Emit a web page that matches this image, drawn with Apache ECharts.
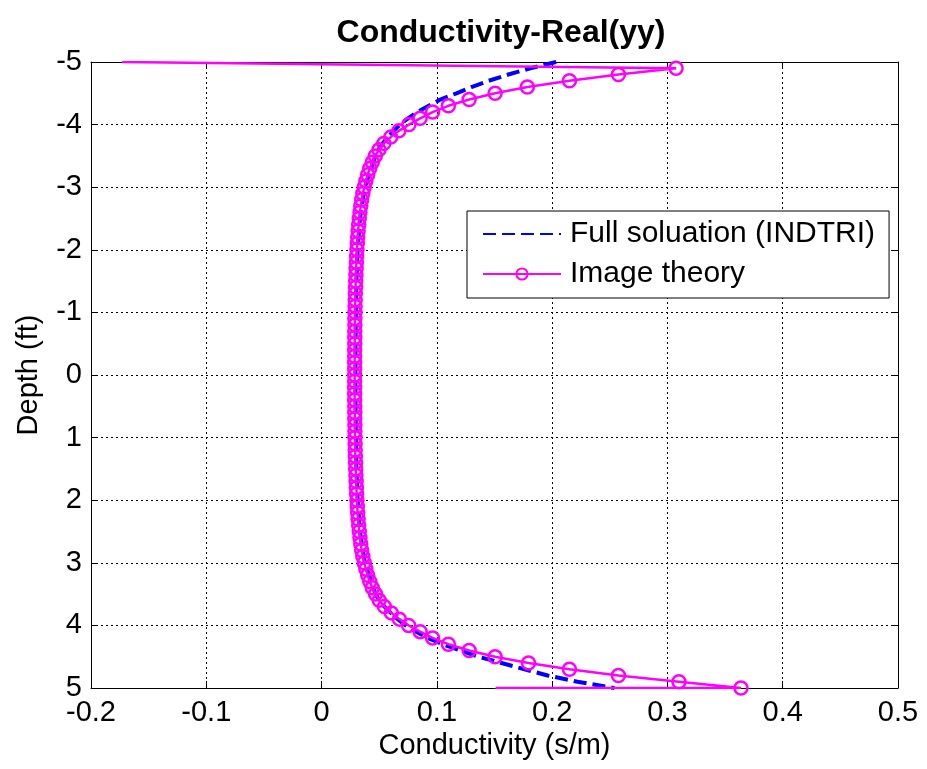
<!DOCTYPE html>
<html>
<head>
<meta charset="utf-8">
<script src="https://cdn.jsdelivr.net/npm/echarts@6/dist/echarts.min.js"></script>
<style>
html,body{margin:0;padding:0;background:#fff;}
#chart{width:927px;height:769px;}
</style>
</head>
<body>
<div id="chart"></div>
<script>
// ---- data ----
const seriesNames = ['Full soluation (INDTRI)', 'Image theory'];
const xTicks = [-0.2, -0.1, 0, 0.1, 0.2, 0.3, 0.4, 0.5];
const yTicks = [-5, -4, -3, -2, -1, 0, 1, 2, 3, 4, 5];

// Full solution (INDTRI): depth (ft) and conductivity (s/m)
const fullDepth = [-5.0,-4.9,-4.8,-4.7,-4.6,-4.5,-4.4,-4.3,-4.2,-4.1,-4.0,-3.9,-3.8,-3.7,-3.6,-3.5,
  -3.0,-2.5,-2.0,-1.5,-1.0,-0.5,0.0,0.5,1.0,1.5,2.0,2.5,3.0,
  3.5,3.6,3.7,3.8,3.9,4.0,4.1,4.2,4.3,4.4,4.5,4.6,4.7,4.8,4.9,5.0];
const fullCond = [0.2035,0.1810,0.1620,0.1450,0.1300,0.1170,0.1030,0.0930,0.0830,0.0750,0.0680,0.0625,0.0575,0.0530,0.0495,0.0466,
  0.0375,0.0333,0.0313,0.0302,0.0297,0.0295,0.0294,0.0295,0.0297,0.0302,0.0313,0.0333,0.0375,
  0.0468,0.0500,0.0545,0.0600,0.0660,0.0730,0.0820,0.0920,0.1050,0.1200,0.1360,0.1560,0.1760,0.1960,0.2220,0.2540];

// Image theory: marked points
const imageDepth = [-4.9,-4.8,-4.7,-4.6,-4.5,-4.4,-4.3,-4.2,-4.1,-4.0,
  -3.9,-3.8,-3.7,-3.6,-3.5,-3.4,-3.3,-3.2,-3.1,-3.0,
  -2.9,-2.8,-2.7,-2.6,-2.5,-2.4,-2.3,-2.2,-2.1,-2.0,
  -1.9,-1.8,-1.7,-1.6,-1.5,-1.4,-1.3,-1.2,-1.1,-1.0,
  -0.9,-0.8,-0.7,-0.6,-0.5,-0.4,-0.3,-0.2,-0.1,0.0,
  0.1,0.2,0.3,0.4,0.5,0.6,0.7,0.8,0.9,1.0,
  1.1,1.2,1.3,1.4,1.5,1.6,1.7,1.8,1.9,2.0,
  2.1,2.2,2.3,2.4,2.5,2.6,2.7,2.8,2.9,3.0,
  3.1,3.2,3.3,3.4,3.5,3.6,3.7,3.8,3.9,4.0,
  4.1,4.2,4.3,4.4,4.5,4.6,4.7,4.8,4.9,5.0];
const imageCond = [0.3075,0.2575,0.2150,0.1785,0.1505,0.1280,0.1100,0.0963,0.0855,0.0758,
  0.0670,0.0600,0.0540,0.0498,0.0466,0.0440,0.0418,0.0400,0.0384,0.0370,
  0.0358,0.0348,0.0340,0.0333,0.0327,0.0322,0.0317,0.0313,0.0310,0.0307,
  0.0304,0.0302,0.0300,0.0298,0.0296,0.0295,0.0293,0.0292,0.0291,0.0290,
  0.0289,0.0289,0.0288,0.0288,0.0288,0.0287,0.0287,0.0287,0.0287,0.0287,
  0.0287,0.0287,0.0287,0.0287,0.0288,0.0288,0.0288,0.0289,0.0289,0.0290,
  0.0291,0.0292,0.0293,0.0295,0.0296,0.0298,0.0300,0.0302,0.0304,0.0307,
  0.0310,0.0313,0.0317,0.0322,0.0327,0.0333,0.0340,0.0348,0.0358,0.0370,
  0.0384,0.0400,0.0418,0.0440,0.0468,0.0500,0.0545,0.0605,0.0675,0.0755,
  0.0855,0.0963,0.1100,0.1280,0.1505,0.1795,0.2150,0.2575,0.3100,0.3638];
// Image theory: unmarked end points [conductivity, depth]
const imageStart = [-0.173, -5.0];
const imageEnd = [0.151, 5.0];

// ---- build ----
const fullData = fullDepth.map((d, i) => [fullCond[i], d]);
const imageData = [{value: imageStart, symbol: 'none'}]
  .concat(imageDepth.map((d, i) => [imageCond[i], d]))
  .concat([{value: imageEnd, symbol: 'none'}]);

const FONT = '"Liberation Sans", Arial, Helvetica, sans-serif';
const gridLine = {show: true, lineStyle: {color: '#000', width: 1, type: [2, 3]}};
const axisLine = {show: true, onZero: false, lineStyle: {color: '#000', width: 1}};
const tick = {show: true, inside: true, length: 7, lineStyle: {color: '#000', width: 1}};

const chart = echarts.init(document.getElementById('chart'), null, {renderer: 'canvas'});
chart.setOption({
  animation: false,
  backgroundColor: '#fff',
  title: {
    text: 'Conductivity-Real(yy)',
    left: 496, top: 12, textAlign: 'center',
    textStyle: {fontFamily: FONT, fontSize: 32, fontWeight: 'bold', color: '#000'}
  },
  grid: {left: 91, right: 29, top: 62, bottom: 81, containLabel: false, outerBoundsMode: 'none'},
  legend: {
    data: [
      {name: seriesNames[0], itemStyle: {color: 'rgba(0,0,0,0)', borderWidth: 0}},
      {name: seriesNames[1]}
    ],
    orient: 'vertical',
    left: 467, top: 211,
    backgroundColor: '#fff',
    borderColor: '#000', borderWidth: 1, borderRadius: 0,
    padding: [8, 14, 9, 15],
    itemWidth: 78, itemHeight: 14, itemGap: 10,
    textStyle: {fontFamily: FONT, fontSize: 30, color: '#000', lineHeight: 30, padding: [0, 0, 0, 4]}
  },
  xAxis: [{
    type: 'value', position: 'bottom', min: xTicks[0], max: xTicks[xTicks.length - 1], interval: 0.1,
    axisLine: axisLine, axisTick: tick, splitLine: gridLine,
    axisLabel: {fontFamily: FONT, fontSize: 29, color: '#000', margin: 10, formatter: v => String(+v.toFixed(1))},
    name: 'Conductivity (s/m)', nameLocation: 'middle', nameGap: 43, nameMoveOverlap: false,
    nameTextStyle: {fontFamily: FONT, fontSize: 29, color: '#000'}
  }, {
    type: 'value', position: 'top', min: xTicks[0], max: xTicks[xTicks.length - 1], interval: 0.1,
    axisLine: axisLine, axisTick: tick, splitLine: {show: false}, axisLabel: {show: false}
  }],
  yAxis: [{
    type: 'value', inverse: true, min: yTicks[0], max: yTicks[yTicks.length - 1], interval: 1,
    axisLine: axisLine, axisTick: tick, splitLine: gridLine,
    axisLabel: {fontFamily: FONT, fontSize: 29, color: '#000', margin: 9},
    name: 'Depth (ft)', nameLocation: 'middle', nameGap: 48, nameRotate: 90, nameMoveOverlap: false,
    nameTextStyle: {fontFamily: FONT, fontSize: 29, color: '#000'}
  }, {
    type: 'value', position: 'right', inverse: true, min: yTicks[0], max: yTicks[yTicks.length - 1], interval: 1,
    axisLine: axisLine, axisTick: tick, splitLine: {show: false}, axisLabel: {show: false}
  }],
  series: [{
    name: seriesNames[0], type: 'line', data: fullData,
    xAxisIndex: 0, yAxisIndex: 0,
    symbol: 'none', smooth: false,
    lineStyle: {color: '#0000FF', width: 4, type: [13, 6]},
    itemStyle: {color: '#0000FF'},
    emphasis: {disabled: true}, z: 2
  }, {
    name: seriesNames[1], type: 'line', data: imageData,
    xAxisIndex: 0, yAxisIndex: 0,
    symbol: 'circle', symbolSize: 13, showAllSymbol: true,
    lineStyle: {color: '#FF00FF', width: 2.5},
    itemStyle: {color: 'rgba(255,255,255,0)', borderColor: '#FF00FF', borderWidth: 2.5},
    emphasis: {disabled: true}, z: 3
  }]
});
</script>
</body>
</html>
